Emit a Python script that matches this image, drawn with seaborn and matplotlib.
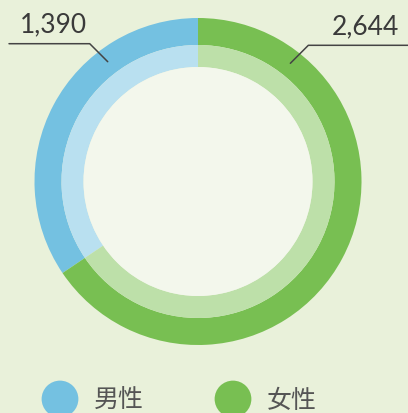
import numpy as np
import pandas as pd
import seaborn as sns
import matplotlib.pyplot as plt

# data
genders = ["男性", "女性"]
counts = [1390, 2644]
count_labels = ["1,390", "2,644"]

# colours
outer_colors = ["#74c1e1", "#78bf52"]
inner_colors = ["#b9e0f0", "#bde0a9"]
bg_color = "#e9f1da"
hole_color = "#f3f7ec"
text_color = "#3a3a3a"

sns.set_style("white")
plt.rcParams["font.family"] = ["Noto Sans CJK SC", "DejaVu Sans"]

W, H = 408, 413
fig = plt.figure(figsize=(W / 100, H / 100), dpi=100, facecolor=bg_color)
ax = fig.add_axes([0, 0, 1, 1])
ax.set_facecolor(bg_color)

cx, cy = 198, H - 181.5
r_out, r_mid, r_in = 163.5, 136.5, 114.5

# outer ring and lighter inner ring, male going counter-clockwise from the top
ax.pie(counts, radius=r_out, center=(cx, cy), startangle=90, colors=outer_colors,
       wedgeprops=dict(width=r_out - r_mid, linewidth=0), frame=True)
ax.pie(counts, radius=r_mid, center=(cx, cy), startangle=90, colors=inner_colors,
       wedgeprops=dict(width=r_mid - r_in, linewidth=0), frame=True)
ax.add_patch(plt.Circle((cx, cy), r_in, color=hole_color, lw=0))

# leader lines with value labels
label_angles = [127, 52]
for ang, lab, side in zip(label_angles, count_labels, [-1, 1]):
    a = np.deg2rad(ang)
    x0, y0 = cx + 150 * np.cos(a), cy + 150 * np.sin(a)
    x1, y1 = x0 + side * 18, y0 + 18
    x2 = 9 if side < 0 else W
    ax.plot([x0, x1, x2], [y0, y1, y1], color="#444444", lw=1.1)
    tx = 20 if side < 0 else 332
    ax.text(tx, y1 + 6, lab, family=["Lato", "DejaVu Sans"],
            fontsize=19, color=text_color, ha="left", va="bottom")

# legend
leg = pd.DataFrame({"gender": genders, "x": [60, 233], "y": [H - 399, H - 399]})
sns.scatterplot(data=leg, x="x", y="y", hue="gender", palette=outer_colors,
                s=700, linewidth=0, legend=False, ax=ax)
for x, g in zip(leg["x"], genders):
    ax.text(x + 34, H - 401, g, fontsize=18, color="#555555",
            ha="left", va="center")

ax.set_xlim(0, W)
ax.set_ylim(0, H)
ax.set_aspect("equal")
ax.axis("off")

fig.savefig("out.png", dpi=100, facecolor=bg_color)
